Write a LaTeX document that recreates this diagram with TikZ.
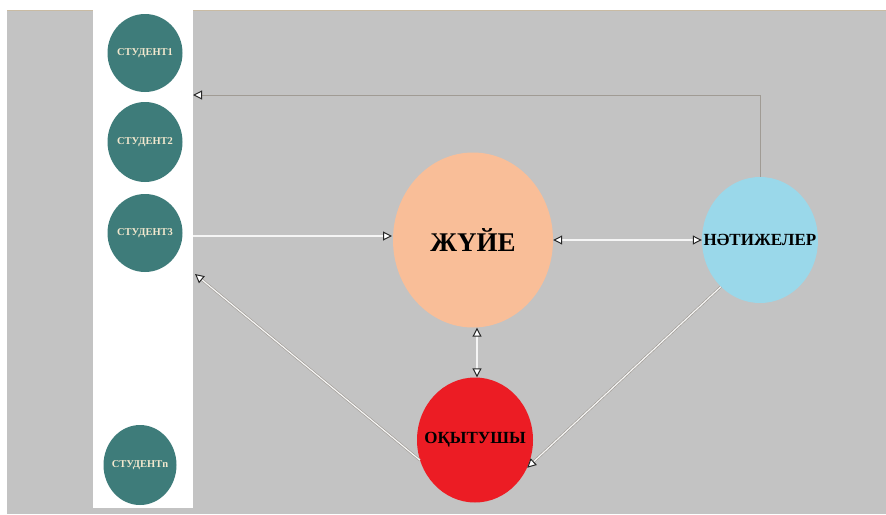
\documentclass[tikz,border=0pt]{standalone}
\usepackage{fontspec}
\setmainfont{Liberation Serif}
\usetikzlibrary{shapes.geometric,arrows.meta}
\definecolor{bg}{HTML}{C3C3C3}
\definecolor{tealc}{HTML}{3E7C7A}
\definecolor{peach}{HTML}{F9BE98}
\definecolor{sky}{HTML}{9AD8EA}
\definecolor{redc}{HTML}{EC1C24}
\definecolor{beige}{HTML}{C9BBA3}
\definecolor{cream}{HTML}{F2E8CE}
\definecolor{linegray}{HTML}{A09B94}
\newcommand{\zb}[1]{\makebox[0pt]{#1}}
\tikzset{wt/.tip={Triangle[length=9pt,width=9pt,color=black!85,fill=white,line width=1pt]}}
\begin{document}
\begin{tikzpicture}[x=1pt,y=-1pt,
  stud/.style={ellipse, fill=tealc, minimum width=75pt, minimum height=78pt, inner sep=0pt,
    text=cream, font=\bfseries\fontsize{10.5}{11}\selectfont},
  bignode/.style={ellipse, inner sep=0pt, font=\bfseries},
  thin/.style={draw=linegray, line width=1pt},
  dbl/.style={draw=linegray, line width=0.6pt, double=white!92!gray, double distance=1.2pt}
]
\useasboundingbox (0,0) rectangle (886,514);
\fill[white] (0,0) rectangle (886,514);
\fill[bg] (7,10) rectangle (886,514);
\draw[beige, line width=1.5pt] (7,10.5) -- (886,10.5);
\node[fill=white, minimum width=100pt, minimum height=498pt, inner sep=0pt, anchor=north west] (panel) at (93,10) {};

\node[stud] (s1) at (145,53) {\zb{СТУДЕНТ1}};
\node[stud, minimum height=80pt] (s2) at (145,142) {\zb{СТУДЕНТ2}};
\node[stud] (s3) at (145,233) {\zb{СТУДЕНТ3}};
\node[stud, minimum width=73pt, minimum height=80pt] (sn) at (140,465) {\zb{СТУДЕНТn}};

\node[bignode, fill=peach, minimum width=160pt, minimum height=175pt, font=\bfseries\fontsize{27}{30}\selectfont] (sys) at (473,240) {\zb{ЖҮЙЕ}};
\node[bignode, fill=sky, minimum width=116pt, minimum height=126pt, font=\bfseries\fontsize{17}{19}\selectfont] (res) at (760,240) {\zb{НӘТИЖЕЛЕР}};
\node[bignode, fill=redc, minimum width=116pt, minimum height=125pt, font=\bfseries\fontsize{17}{19}\selectfont] (tch) at (475,440) {\zb{ОҚЫТУШЫ}};

\coordinate (c1) at (193,95);
\coordinate (c2) at (193,236);
\coordinate (c3) at (195,274);
\coordinate (c4) at (392,236);

\draw[thin, -{wt}] (res.north) |- (c1);
\draw[dbl, -{wt}] (c2) -- (c4);
\draw[dbl, {wt}-{wt}] (sys.east) -- (res.west);
\draw[dbl, {wt}-{wt}] (sys.south -| 477,0) -- (tch.north -| 477,0);
\draw[dbl, -{wt}] (tch.200) -- (c3);
\draw[dbl, -{wt}] (res.230) -- (tch.-28);
\end{tikzpicture}
\end{document}
